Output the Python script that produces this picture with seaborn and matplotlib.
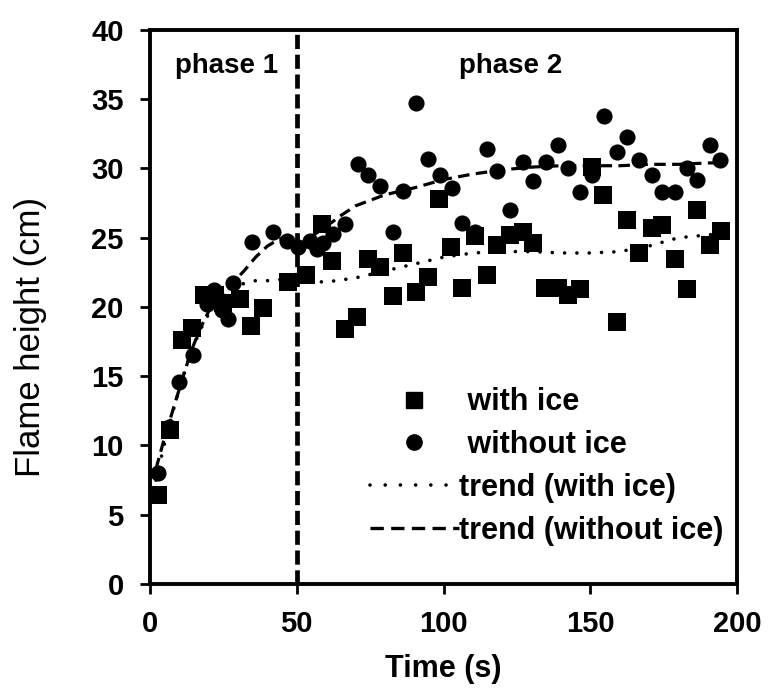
import matplotlib
matplotlib.use("Agg")
import matplotlib.pyplot as plt
import seaborn as sns
import pandas as pd
from matplotlib.lines import Line2D

# ---------------- data ----------------
ice_t = [2.8, 6.8, 10.8, 14.2, 18.5, 22.0, 25.0, 30.7, 34.4, 38.6,
         47.0, 53.0, 58.5, 61.9, 66.4, 70.4, 74.4, 78.4, 82.7, 86.3,
         90.6, 94.8, 98.5, 102.4, 106.2, 110.7, 114.7, 118.1, 122.7, 127.0,
         130.6, 134.6, 139.1, 142.5, 146.5, 150.5, 154.4, 159.0, 162.4, 166.7,
         170.9, 174.6, 178.9, 182.8, 186.5, 190.8, 194.4]
ice_h = [6.4, 11.1, 17.6, 18.5, 20.9, 20.9, 20.3, 20.6, 18.6, 19.9,
         21.8, 22.3, 26.0, 23.3, 18.4, 19.3, 23.5, 22.9, 20.8, 23.9,
         21.1, 22.2, 27.8, 24.3, 21.4, 25.1, 22.3, 24.5, 25.2, 25.4,
         24.6, 21.4, 21.4, 20.9, 21.3, 30.1, 28.1, 18.9, 26.3, 23.9,
         25.7, 25.9, 23.5, 21.3, 27.0, 24.5, 25.5]

noice_t = [2.8, 6.5, 9.7, 14.8, 19.5, 21.8, 24.4, 26.7, 28.4, 34.6,
           42.0, 46.6, 50.5, 54.5, 56.8, 59.0, 62.4, 66.4, 70.8, 74.4,
           78.4, 82.9, 86.3, 90.6, 94.8, 98.8, 103.0, 106.2, 110.7, 114.9,
           118.3, 122.7, 127.0, 130.4, 135.0, 139.1, 142.5, 146.5, 150.5, 154.7,
           159.0, 162.4, 166.7, 170.9, 174.3, 178.9, 182.8, 186.5, 190.8, 194.2]
noice_h = [8.0, 11.3, 14.6, 16.5, 20.2, 21.2, 19.8, 19.1, 21.7, 24.7,
           25.4, 24.8, 24.3, 24.8, 24.2, 24.6, 25.3, 26.0, 30.3, 29.5,
           28.7, 25.4, 28.4, 34.7, 30.7, 29.5, 28.6, 26.1, 25.4, 31.4,
           29.8, 27.0, 30.5, 29.1, 30.5, 31.7, 30.0, 28.3, 29.5, 33.8,
           31.2, 32.3, 30.6, 29.5, 28.3, 28.3, 30.0, 29.2, 31.7, 30.6]

# trend lines, phase 1 and phase 2
trend_ice_p1_t = [2, 5, 8, 11, 14, 17, 20, 24, 28, 32, 36, 40, 45, 50]
trend_ice_p1_h = [7.5, 10.2, 12.6, 14.8, 16.7, 18.3, 19.5, 20.6, 21.3, 21.7, 21.9, 21.9, 22.0, 22.0]
trend_ice_p2_t = [50, 60, 70, 80, 90, 100, 110, 120, 130, 140, 150, 160, 170, 180, 190, 195]
trend_ice_p2_h = [21.9, 21.8, 22.1, 22.6, 23.1, 23.6, 23.9, 24.0, 24.0, 23.9, 23.9, 24.0, 24.4, 25.0, 25.2, 25.3]

trend_noice_p1_t = [2, 5, 8, 11, 14, 17, 20, 24, 28, 32, 36, 40, 44, 48]
trend_noice_p1_h = [8.3, 10.6, 12.7, 14.8, 16.8, 18.4, 19.7, 20.8, 21.7, 22.6, 23.6, 24.4, 24.9, 25.0]
trend_noice_p2_t = [50, 55, 60, 65, 70, 80, 90, 100, 110, 120, 130, 140, 150, 160, 170, 180, 190, 195]
trend_noice_p2_h = [24.3, 25.1, 25.8, 26.6, 27.3, 28.1, 28.6, 29.2, 29.6, 29.9, 30.1, 30.2, 30.2, 30.2, 30.3, 30.3, 30.4, 30.4]

phase_boundary = 50
x_ticks = [0, 50, 100, 150, 200]
y_ticks = [0, 5, 10, 15, 20, 25, 30, 35, 40]

# ---------------- style ----------------
sns.set_theme(style="ticks")
plt.rcParams["font.family"] = ["Liberation Sans", "DejaVu Sans"]
plt.rcParams["text.color"] = "black"
plt.rcParams["axes.labelcolor"] = "black"
plt.rcParams["xtick.color"] = "black"
plt.rcParams["ytick.color"] = "black"

fig = plt.figure(figsize=(7.69, 6.88), dpi=100)
ax = fig.add_axes([0.1951, 0.1512, 0.7633, 0.8052])

df_ice = pd.DataFrame({"t": ice_t, "h": ice_h})
df_noice = pd.DataFrame({"t": noice_t, "h": noice_h})

sns.scatterplot(data=df_ice, x="t", y="h", marker="s", s=150, color="black",
                linewidth=0, ax=ax, zorder=3)
sns.scatterplot(data=df_noice, x="t", y="h", marker="o", s=135, color="black",
                linewidth=0, ax=ax, zorder=3)

dotted = dict(color="black", linewidth=2.6, linestyle=(0, (0.01, 3.4)),
              dash_capstyle="round", estimator=None, sort=False, zorder=4)
dashed = dict(color="black", linewidth=2.3, linestyle=(0, (3.6, 2.0)),
              estimator=None, sort=False, zorder=4)

for tt, hh in [(trend_ice_p1_t, trend_ice_p1_h), (trend_ice_p2_t, trend_ice_p2_h)]:
    sns.lineplot(x=tt, y=hh, ax=ax, **dotted)
for tt, hh in [(trend_noice_p1_t, trend_noice_p1_h), (trend_noice_p2_t, trend_noice_p2_h)]:
    sns.lineplot(x=tt, y=hh, ax=ax, **dashed)

ax.axvline(phase_boundary, color="black", linewidth=3.4, linestyle=(0, (3.0, 1.2)), zorder=5)

ax.set_xlim(0, 200)
ax.set_ylim(0, 40)
ax.set_xticks(x_ticks)
ax.set_yticks(y_ticks)
ax.set_xticklabels([str(v) for v in x_ticks], fontsize=21, fontweight="bold")
ax.set_yticklabels([str(v) for v in y_ticks], fontsize=21, fontweight="bold")
ax.tick_params(axis="x", direction="out", length=7, width=2, pad=12, colors="black")
ax.tick_params(axis="y", direction="out", length=7, width=2, pad=12, colors="black")

for sp in ax.spines.values():
    sp.set_visible(True)
    sp.set_linewidth(2.8)
    sp.set_color("black")

ax.set_xlabel("Time (s)", fontsize=22, fontweight="bold", labelpad=11)
ax.set_ylabel("Flame height (cm)", fontsize=25, fontweight="normal")
ax.yaxis.set_label_coords(-0.175, 0.446)

ax.text(26, 37.4, "phase 1", fontsize=20, fontweight="bold", ha="center", va="center")
ax.text(123, 37.4, "phase 2", fontsize=20, fontweight="bold", ha="center", va="center")

handles = [
    Line2D([], [], marker="s", color="black", linestyle="none", markersize=11),
    Line2D([], [], marker="o", color="black", linestyle="none", markersize=11),
    Line2D([], [], color="black", lw=2.6, linestyle=(0, (0.01, 4.2)), dash_capstyle="round"),
    Line2D([], [], color="black", lw=2.4, linestyle=(0, (4.0, 2.2))),
]
labels = [" with ice", " without ice", "trend (with ice)", "trend (without ice)"]
leg = ax.legend(handles, labels, loc="upper left", bbox_to_anchor=(0.375, 0.355),
                frameon=False, handlelength=2.9, handletextpad=0.0,
                labelspacing=0.42, borderpad=0, borderaxespad=0,
                prop={"family": "Liberation Sans", "weight": "bold", "size": 22})

fig.savefig("out.png", dpi=100)
